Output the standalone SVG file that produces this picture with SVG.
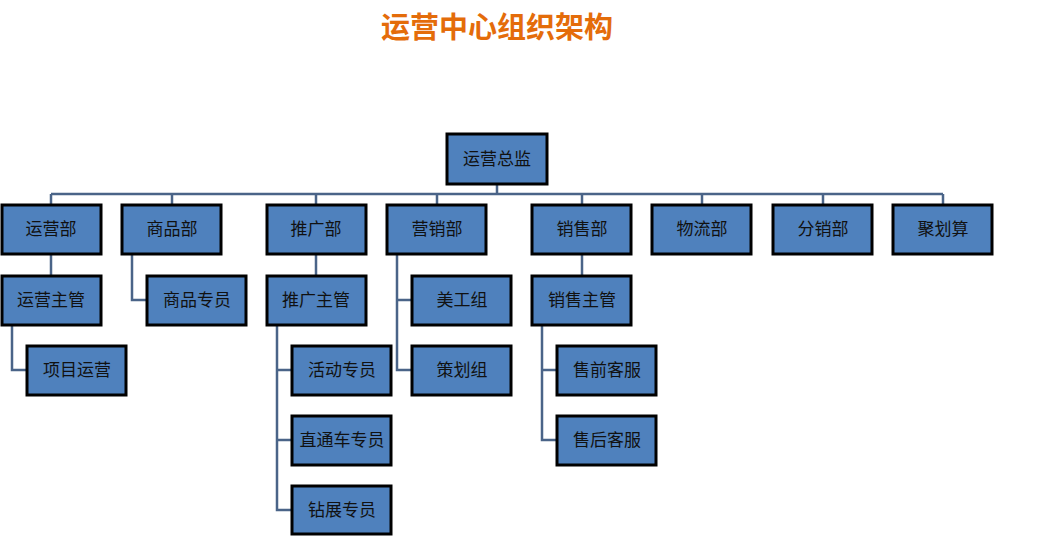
<svg xmlns="http://www.w3.org/2000/svg" width="1043" height="536" viewBox="0 0 1043 536">
<style>
.n rect{fill:#4F81BD;stroke:#000;stroke-width:3}
.n text{font-family:"Liberation Serif","Noto Sans CJK SC",serif;font-size:17px;fill:#111;text-anchor:middle;dominant-baseline:central}
#c path{fill:none;stroke:#4A6488;stroke-width:2.5}
</style>
<rect width="1043" height="536" fill="#fff"/>
<text x="497" y="25" font-family="'Noto Sans CJK SC',sans-serif" font-size="29" font-weight="bold" fill="#E46C0A" text-anchor="middle" dominant-baseline="central">运营中心组织架构</text>
<g id="c">
<path d="M497 184V194M51 194H943M51 194V205M172 194V205M316 194V205M437 194V205M582 194V205M702 194V205M823 194V205M943 194V205"/>
<path d="M51 254V276M12 325V370H27M132 254V300H147M316 254V276M277 325V510H292M277 370H292M277 440H292M397 254V370H412M397 300H412M582 254V276M542 325V440H557M542 370H557"/>
</g>
<g id="n0" class="n"><rect x="447" y="134" width="100" height="50"/><text x="497" y="159">运营总监</text></g>
<g id="n1" class="n"><rect x="2" y="205" width="99" height="49"/><text x="51" y="229">运营部</text></g>
<g id="n2" class="n"><rect x="122" y="205" width="99" height="49"/><text x="172" y="229">商品部</text></g>
<g id="n3" class="n"><rect x="267" y="205" width="99" height="49"/><text x="316" y="229">推广部</text></g>
<g id="n4" class="n"><rect x="387" y="205" width="99" height="49"/><text x="437" y="229">营销部</text></g>
<g id="n5" class="n"><rect x="532" y="205" width="99" height="49"/><text x="582" y="229">销售部</text></g>
<g id="n6" class="n"><rect x="652" y="205" width="99" height="49"/><text x="702" y="229">物流部</text></g>
<g id="n7" class="n"><rect x="773" y="205" width="99" height="49"/><text x="823" y="229">分销部</text></g>
<g id="n8" class="n"><rect x="893" y="205" width="99" height="49"/><text x="943" y="229">聚划算</text></g>
<g id="n9" class="n"><rect x="2" y="276" width="99" height="49"/><text x="51" y="300">运营主管</text></g>
<g id="n10" class="n"><rect x="147" y="276" width="99" height="49"/><text x="197" y="300">商品专员</text></g>
<g id="n11" class="n"><rect x="267" y="276" width="99" height="49"/><text x="316" y="300">推广主管</text></g>
<g id="n12" class="n"><rect x="412" y="276" width="99" height="49"/><text x="462" y="300">美工组</text></g>
<g id="n13" class="n"><rect x="532" y="276" width="99" height="49"/><text x="582" y="300">销售主管</text></g>
<g id="n14" class="n"><rect x="27" y="346" width="99" height="49"/><text x="77" y="370">项目运营</text></g>
<g id="n15" class="n"><rect x="292" y="346" width="99" height="49"/><text x="342" y="370">活动专员</text></g>
<g id="n16" class="n"><rect x="412" y="346" width="99" height="49"/><text x="462" y="370">策划组</text></g>
<g id="n17" class="n"><rect x="557" y="346" width="99" height="49"/><text x="607" y="370">售前客服</text></g>
<g id="n18" class="n"><rect x="292" y="416" width="99" height="49"/><text x="342" y="440">直通车专员</text></g>
<g id="n19" class="n"><rect x="557" y="416" width="99" height="49"/><text x="607" y="440">售后客服</text></g>
<g id="n20" class="n"><rect x="292" y="486" width="99" height="48"/><text x="342" y="510">钻展专员</text></g>
</svg>
